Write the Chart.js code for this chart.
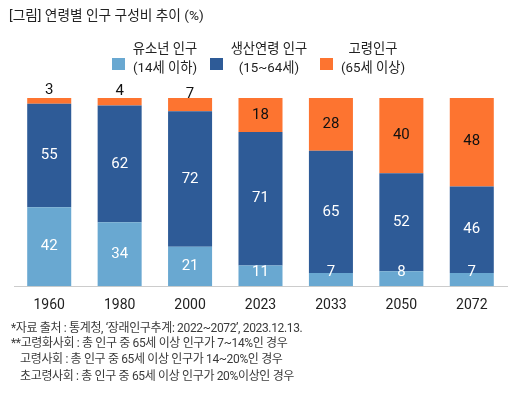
<!DOCTYPE html>
<html>
<head>
<meta charset="utf-8">
<script src="https://cdn.jsdelivr.net/npm/chart.js@4"></script>
<style>
  body { margin:0; background:#fff; font-family: Roboto, "Noto Sans CJK KR", sans-serif; }
  #wrap { position:relative; width:525px; height:395px; overflow:hidden; }
  #chart { position:absolute; left:0; top:0; }
  .title { position:absolute; left:9px; top:5px; font-size:13.7px; color:#222; line-height:20px; }
  .box { position:absolute; width:13px; height:12px; }
  .leg { position:absolute; width:120px; text-align:center; font-size:13.3px; line-height:19px; color:#222; }
  .note { position:absolute; font-size:12px; color:#3a3a3a; line-height:16px; white-space:nowrap; letter-spacing:-0.35px; }
</style>
</head>
<body>
<div id="wrap">
  <canvas id="chart" width="525" height="395"></canvas>
  <div class="title">[그림] 연령별 인구 구성비 추이 (%)</div>

  <div class="box" style="left:112px;top:58px;background:#69a8d1"></div>
  <div class="leg" style="left:105px;top:39px">유소년 인구<br>(14세 이하)</div>
  <div class="box" style="left:210px;top:58px;background:#2e5b97"></div>
  <div class="leg" style="left:209px;top:39px">생산연령 인구<br>(15~64세)</div>
  <div class="box" style="left:320px;top:58px;background:#fd7430"></div>
  <div class="leg" style="left:313px;top:39px">고령인구<br>(65세 이상)</div>

  <div class="note" style="left:11px;top:320px">*자료 출처 : 통계청, ‘장래인구추계: 2022~2072’, 2023.12.13.</div>
  <div class="note" style="left:11px;top:335px">**고령화사회 : 총 인구 중 65세 이상 인구가 7~14%인 경우</div>
  <div class="note" style="left:20px;top:351px">고령사회 : 총 인구 중 65세 이상 인구가 14~20%인 경우</div>
  <div class="note" style="left:20px;top:368px">초고령사회 : 총 인구 중 65세 이상 인구가 20%이상인 경우</div>
</div>
<script>
// === DATA ===
const years = ['1960', '1980', '2000', '2023', '2033', '2050', '2072'];
const youth = [42, 34, 21, 11, 7, 8, 7];
const working = [55, 62, 72, 71, 65, 52, 46];
const elderly = [3, 4, 7, 18, 28, 40, 48];

const colors = ['#69a8d1', '#2e5b97', '#fd7430'];
const labelColors = ['#fff', '#fff', '#111'];

// === VALUE LABELS ===
const valueLabels = {
    id: 'valueLabels',
    afterDatasetsDraw(chart){
        const ctx = chart.ctx;
        ctx.save();
        ctx.font = '15px Roboto, "Noto Sans CJK KR", sans-serif';
        ctx.textAlign = 'center';
        ctx.textBaseline = 'middle';
        chart.data.datasets.forEach((ds, di)=>{
            const meta = chart.getDatasetMeta(di);
            meta.data.forEach((bar, i)=>{
                const v = ds.data[i];
                let y = (bar.y + bar.base)/2;
                if(di === 2 && v < 10) y -= 10.5;       // small top values sit above the bar
                if(di === 0) y = Math.min(y, bar.base - 14);
                ctx.fillStyle = labelColors[di];
                ctx.fillText(v, bar.x, y);
            });
        });
        ctx.restore();
    }
};

new Chart(document.getElementById('chart').getContext('2d'), {
    type: 'bar',
    data: {
        labels: years,
        datasets: [
            {label:'유소년 인구', data:youth, backgroundColor:colors[0]},
            {label:'생산연령 인구', data:working, backgroundColor:colors[1]},
            {label:'고령인구', data:elderly, backgroundColor:colors[2]}
        ]
    },
    options: {
        responsive: false,
        animation: false,
        layout: { padding: { left:14, right:18, top:98, bottom:78 } },
        plugins: { legend:{display:false}, tooltip:{enabled:false} },
        datasets: { bar: { categoryPercentage:1, barPercentage:0.625 } },
        scales: {
            x: {
                stacked: true,
                grid: { display:false },
                border: { display:true, color:'#cccccc', width:1 },
                ticks: { padding:3, color:'#222', font:{ size:14, family:'Roboto, "Noto Sans CJK KR", sans-serif' } }
            },
            y: { stacked:true, display:false, min:0, max:100 }
        }
    },
    plugins: [valueLabels]
});
</script>
</body>
</html>
